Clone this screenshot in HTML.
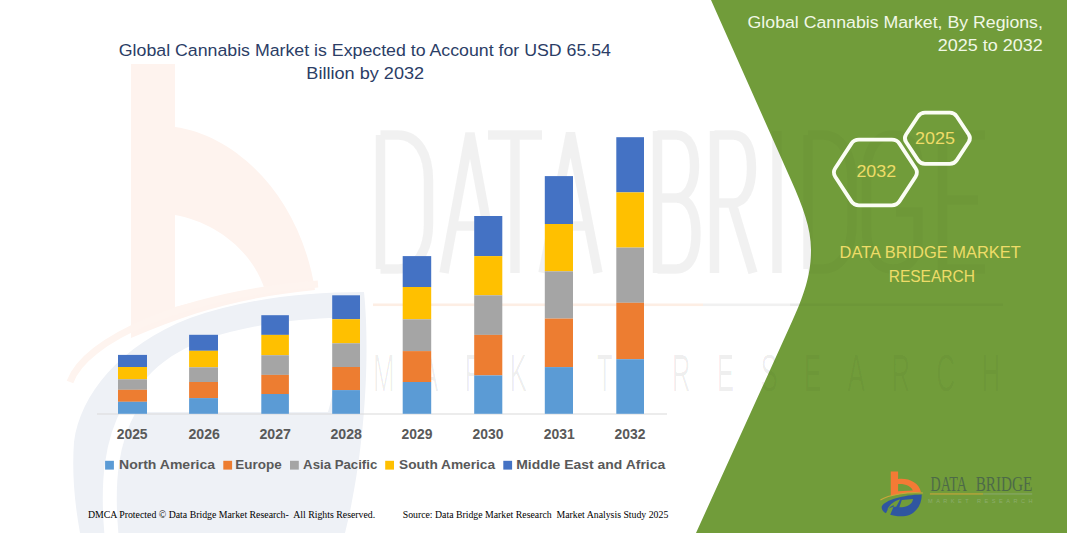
<!DOCTYPE html>
<html><head><meta charset="utf-8"><title>Global Cannabis Market</title>
<style>
html,body{margin:0;padding:0;background:#fff;}
body{width:1067px;height:533px;overflow:hidden;font-family:"Liberation Sans",sans-serif;}
svg{display:block;}
text{font-family:"Liberation Sans",sans-serif;}
.serif{font-family:"Liberation Serif",serif;}
</style></head><body>
<svg width="1067" height="533" viewBox="0 0 1067 533">
<rect width="1067" height="533" fill="#ffffff"/>
<g>
<path d="M131,64 L175,64 L175,127 C235,135 300,195 315,290 C255,296 200,308 131,338 Z M175,215 C215,222 252,250 265,290 C232,294 200,300 175,307 Z" fill="#fef3ee" fill-rule="evenodd"/>
<path d="M70,382 C85,340 180,295 318,284" fill="none" stroke="#fef4ef" stroke-width="7"/>
<path d="M74,442 C80,395 120,345 190,318 C240,300 300,292 364,292 C370,350 366,450 345,533 L80,533 C74,500 72,470 74,442 Z M128,412 C140,370 180,345 230,332 C270,322 310,318 338,318 C340,350 336,385 328,412 Z" fill="#eef1f6" fill-rule="evenodd"/>
<path d="M112,540 C106,480 112,440 130,408" fill="none" stroke="#ffffff" stroke-width="14"/>
</g>
<g fill="none" stroke="#000" stroke-opacity="0.032" stroke-width="9.5">
<path d="M380.5,135 V269 M380.5,135 H398 C418,135 428.5,155 428.5,180 V224 C428.5,249 418,269 398,269 H380.5"/>
<path d="M444,273 L470,133 L496,273 M452.5,226 H487.5"/>
<path d="M488,135 H542 M515,135 V273"/>
<path d="M543,273 L570.5,133 L598,273 M552,226 H589"/>
<path d="M657.5,131 V273 M657.5,135 H676 C690,135 694.5,150 694.5,166 C694.5,184 688,198 676,198 H657.5 M676,198 C690,198 696,214 696,233 C696,254 690,269 676,269 H657.5"/>
<path d="M714.5,131 V273 M714.5,135 H733 C747,135 751.5,150 751.5,168 C751.5,188 745,203 733,203 H714.5 M732,203 L753,273"/>
<path d="M777,131 V273"/>
<path d="M808,135 V269 M808,135 H823 C842,135 852,155 852,180 V224 C852,249 842,269 823,269 H808"/>
<path d="M918,165 C918,145 908,135 893,135 C876,135 866.5,150 866.5,175 V229 C866.5,254 876,269 893,269 C908,269 918,259 918,240 V212 H896"/>
<path d="M985,135 H942.5 V269 H985 M942.5,200 H978"/>
</g>
<rect x="373" y="303.5" width="330" height="2.6" fill="#fdeee4"/>
<rect x="703" y="303.5" width="300" height="2.6" fill="#f1f1f1"/>
<text transform="translate(373,391) scale(0.5,1)" font-size="52px" fill="#000" fill-opacity="0.03" textLength="1254" lengthAdjust="spacing">MARKET RESEARCH</text>

<!-- green panel -->
<path d="M711,0 L791,180 C803,207 811,228 811,250 C811,272 806,292 790,326 L696,533 L1067,533 L1067,0 Z" fill="#719c3a"/>
<g fill="none" stroke="#000" stroke-opacity="0.025" stroke-width="9.5">
<path d="M380.5,135 V269 M380.5,135 H398 C418,135 428.5,155 428.5,180 V224 C428.5,249 418,269 398,269 H380.5"/>
<path d="M444,273 L470,133 L496,273 M452.5,226 H487.5"/>
<path d="M488,135 H542 M515,135 V273"/>
<path d="M543,273 L570.5,133 L598,273 M552,226 H589"/>
<path d="M657.5,131 V273 M657.5,135 H676 C690,135 694.5,150 694.5,166 C694.5,184 688,198 676,198 H657.5 M676,198 C690,198 696,214 696,233 C696,254 690,269 676,269 H657.5"/>
<path d="M714.5,131 V273 M714.5,135 H733 C747,135 751.5,150 751.5,168 C751.5,188 745,203 733,203 H714.5 M732,203 L753,273"/>
<path d="M777,131 V273"/>
<path d="M808,135 V269 M808,135 H823 C842,135 852,155 852,180 V224 C852,249 842,269 823,269 H808"/>
<path d="M918,165 C918,145 908,135 893,135 C876,135 866.5,150 866.5,175 V229 C866.5,254 876,269 893,269 C908,269 918,259 918,240 V212 H896"/>
<path d="M985,135 H942.5 V269 H985 M942.5,200 H978"/>
</g>
<rect x="790" y="303.5" width="213" height="2.6" fill="#000" fill-opacity="0.03"/>
<text transform="translate(373,391) scale(0.5,1)" font-size="52px" fill="#000" fill-opacity="0.035" textLength="1254" lengthAdjust="spacing">MARKET RESEARCH</text>

<!-- axis -->
<rect x="97" y="413.5" width="570" height="1" fill="#d9d9d9"/>
<rect x="118.0" y="354.9" width="29.0" height="12.1" fill="#4472c4"/>
<rect x="118.0" y="367.0" width="29.0" height="12.3" fill="#ffc000"/>
<rect x="118.0" y="379.3" width="29.0" height="10.5" fill="#a5a5a5"/>
<rect x="118.0" y="389.8" width="29.0" height="12.0" fill="#ed7d31"/>
<rect x="118.0" y="401.8" width="29.0" height="12.0" fill="#5b9bd5"/>
<rect x="189.1" y="334.8" width="28.9" height="16.0" fill="#4472c4"/>
<rect x="189.1" y="350.8" width="28.9" height="16.5" fill="#ffc000"/>
<rect x="189.1" y="367.3" width="28.9" height="14.7" fill="#a5a5a5"/>
<rect x="189.1" y="382.0" width="28.9" height="16.1" fill="#ed7d31"/>
<rect x="189.1" y="398.1" width="28.9" height="15.7" fill="#5b9bd5"/>
<rect x="261.3" y="315.2" width="27.6" height="19.7" fill="#4472c4"/>
<rect x="261.3" y="334.9" width="27.6" height="20.3" fill="#ffc000"/>
<rect x="261.3" y="355.2" width="27.6" height="19.7" fill="#a5a5a5"/>
<rect x="261.3" y="374.9" width="27.6" height="19.1" fill="#ed7d31"/>
<rect x="261.3" y="394.0" width="27.6" height="19.8" fill="#5b9bd5"/>
<rect x="332.2" y="295.3" width="27.8" height="23.9" fill="#4472c4"/>
<rect x="332.2" y="319.2" width="27.8" height="24.1" fill="#ffc000"/>
<rect x="332.2" y="343.3" width="27.8" height="23.7" fill="#a5a5a5"/>
<rect x="332.2" y="367.0" width="27.8" height="23.1" fill="#ed7d31"/>
<rect x="332.2" y="390.1" width="27.8" height="23.7" fill="#5b9bd5"/>
<rect x="402.7" y="256.1" width="28.5" height="30.9" fill="#4472c4"/>
<rect x="402.7" y="287.0" width="28.5" height="32.3" fill="#ffc000"/>
<rect x="402.7" y="319.3" width="28.5" height="31.8" fill="#a5a5a5"/>
<rect x="402.7" y="351.1" width="28.5" height="30.9" fill="#ed7d31"/>
<rect x="402.7" y="382.0" width="28.5" height="31.8" fill="#5b9bd5"/>
<rect x="474.2" y="216.0" width="28.1" height="40.1" fill="#4472c4"/>
<rect x="474.2" y="256.1" width="28.1" height="39.2" fill="#ffc000"/>
<rect x="474.2" y="295.3" width="28.1" height="39.6" fill="#a5a5a5"/>
<rect x="474.2" y="334.9" width="28.1" height="40.5" fill="#ed7d31"/>
<rect x="474.2" y="375.4" width="28.1" height="38.4" fill="#5b9bd5"/>
<rect x="544.8" y="176.1" width="28.2" height="47.9" fill="#4472c4"/>
<rect x="544.8" y="224.0" width="28.2" height="47.3" fill="#ffc000"/>
<rect x="544.8" y="271.3" width="28.2" height="47.3" fill="#a5a5a5"/>
<rect x="544.8" y="318.6" width="28.2" height="48.5" fill="#ed7d31"/>
<rect x="544.8" y="367.1" width="28.2" height="46.7" fill="#5b9bd5"/>
<rect x="616.3" y="137.2" width="27.7" height="55.2" fill="#4472c4"/>
<rect x="616.3" y="192.4" width="27.7" height="55.2" fill="#ffc000"/>
<rect x="616.3" y="247.6" width="27.7" height="55.2" fill="#a5a5a5"/>
<rect x="616.3" y="302.8" width="27.7" height="56.4" fill="#ed7d31"/>
<rect x="616.3" y="359.2" width="27.7" height="54.6" fill="#5b9bd5"/>
<g font-weight="bold" font-size="14px" fill="#595959">
<text x="116.7" y="439.2" textLength="30.9" lengthAdjust="spacingAndGlyphs">2025</text>
<text x="188.4" y="439.2" textLength="31.5" lengthAdjust="spacingAndGlyphs">2026</text>
<text x="259.5" y="439.2" textLength="31.5" lengthAdjust="spacingAndGlyphs">2027</text>
<text x="330.4" y="439.2" textLength="31.5" lengthAdjust="spacingAndGlyphs">2028</text>
<text x="401.5" y="439.2" textLength="30.9" lengthAdjust="spacingAndGlyphs">2029</text>
<text x="472.6" y="439.2" textLength="30.9" lengthAdjust="spacingAndGlyphs">2030</text>
<text x="543.7" y="439.2" textLength="31.0" lengthAdjust="spacingAndGlyphs">2031</text>
<text x="614.6" y="439.2" textLength="30.9" lengthAdjust="spacingAndGlyphs">2032</text>
</g>
<g font-weight="bold" font-size="13.5px" fill="#595959">
<rect x="105.1" y="460.8" width="8.8" height="8.8" fill="#5b9bd5"/>
<text x="119.0" y="468.6" textLength="96.1" lengthAdjust="spacingAndGlyphs">North America</text>
<rect x="223.3" y="460.8" width="8.8" height="8.8" fill="#ed7d31"/>
<text x="235.3" y="468.6" textLength="46.4" lengthAdjust="spacingAndGlyphs">Europe</text>
<rect x="290.0" y="460.8" width="8.8" height="8.8" fill="#a5a5a5"/>
<text x="303.1" y="468.6" textLength="74.2" lengthAdjust="spacingAndGlyphs">Asia Pacific</text>
<rect x="385.2" y="460.8" width="8.8" height="8.8" fill="#ffc000"/>
<text x="399.0" y="468.6" textLength="96.1" lengthAdjust="spacingAndGlyphs">South America</text>
<rect x="503.3" y="460.8" width="8.8" height="8.8" fill="#4472c4"/>
<text x="516.2" y="468.6" textLength="149.0" lengthAdjust="spacingAndGlyphs">Middle East and Africa</text>
</g>
<!-- titles -->
<g font-size="16.8px" fill="#2b3d66">
<text x="118.8" y="55.7" textLength="492.2" lengthAdjust="spacingAndGlyphs">Global Cannabis Market is Expected to Account for USD 65.54</text>
<text x="306.3" y="79" textLength="117.8" lengthAdjust="spacingAndGlyphs">Billion by 2032</text>
</g>
<g font-size="16.8px" fill="#f1f8e6">
<text x="747.6" y="28" textLength="295.3" lengthAdjust="spacingAndGlyphs">Global Cannabis Market, By Regions,</text>
<text x="937.8" y="51.3" textLength="105" lengthAdjust="spacingAndGlyphs">2025 to 2032</text>
</g>
<!-- hexagons -->
<g fill="none" stroke="#fbfdf4" stroke-width="3.8" stroke-linejoin="round">
<path d="M835.24,176.68 Q832.50,172.50 835.24,168.32 L851.21,143.88 Q853.95,139.70 858.95,139.70 L891.85,139.70 Q896.85,139.70 899.59,143.88 L915.56,168.32 Q918.30,172.50 915.56,176.68 L899.59,201.12 Q896.85,205.30 891.85,205.30 L858.95,205.30 Q853.95,205.30 851.21,201.12 Z"/>
<path d="M906.08,142.06 Q903.60,138.30 906.08,134.54 L918.02,116.46 Q920.50,112.70 925.00,112.70 L949.80,112.70 Q954.30,112.70 956.78,116.46 L968.72,134.54 Q971.20,138.30 968.72,142.06 L956.78,160.14 Q954.30,163.90 949.80,163.90 L925.00,163.90 Q920.50,163.90 918.02,160.14 Z"/>
</g>
<g font-size="16.8px" fill="#eedc68">
<text x="856.4" y="176.6" textLength="39.8" lengthAdjust="spacingAndGlyphs">2032</text>
<text x="914.9" y="144.3" textLength="40" lengthAdjust="spacingAndGlyphs">2025</text>
<text x="839.6" y="258.2" textLength="181.2" lengthAdjust="spacingAndGlyphs">DATA BRIDGE MARKET</text>
<text x="888.7" y="281.9" textLength="86.3" lengthAdjust="spacingAndGlyphs">RESEARCH</text>
</g>
<g transform="translate(875,462) scale(0.11261)">
<path d="M140,85 L205,85 L205,150 C300,140 390,180 408,268 C330,266 220,278 140,302 Z M205,196 C270,192 320,215 336,252 L205,260 Z" fill="#f47a35" fill-rule="evenodd"/>
<path d="M48,338 C120,290 300,262 425,275" fill="none" stroke="#c9a63a" stroke-width="10"/>
<path d="M60,395 C90,335 250,292 415,288 C418,370 365,475 250,482 C195,484 160,476 135,468 L170,385 C140,392 112,415 98,455 C70,440 56,420 60,395 Z M238,338 L338,328 C332,372 292,402 216,402 Z M108,425 C132,372 175,345 224,331 L188,398 C158,396 132,405 108,425 Z" fill="#2f56a0" fill-rule="evenodd"/>
</g>
<g class="serif">
<text class="serif" x="930.6" y="490.6" font-size="20.2px" fill="#4d6a48" textLength="36.4" lengthAdjust="spacingAndGlyphs">DATA</text>
<text class="serif" x="975.7" y="490.6" font-size="20.2px" fill="#4d6a48" textLength="56.5" lengthAdjust="spacingAndGlyphs">BRIDGE</text>
<rect x="929.9" y="493.4" width="53.3" height="1.1" fill="#c9a63a"/>
<rect x="983.2" y="493.4" width="49" height="1.1" fill="#88a86a"/>
<text x="928" y="503" font-size="5.6px" fill="#8cad6c" textLength="104.5" lengthAdjust="spacing">MARKET RESEARCH</text>
</g>
<!-- footer -->
<g class="serif" font-size="9.33px" fill="#000">
<text class="serif" x="87.9" y="517.9" textLength="287.3" lengthAdjust="spacingAndGlyphs" xml:space="preserve">DMCA Protected © Data Bridge Market Research-  All Rights Reserved.</text>
<text class="serif" x="402.7" y="517.9" textLength="265.6" lengthAdjust="spacingAndGlyphs" xml:space="preserve">Source: Data Bridge Market Research  Market Analysis Study 2025</text>
</g>
</svg>
</body></html>
